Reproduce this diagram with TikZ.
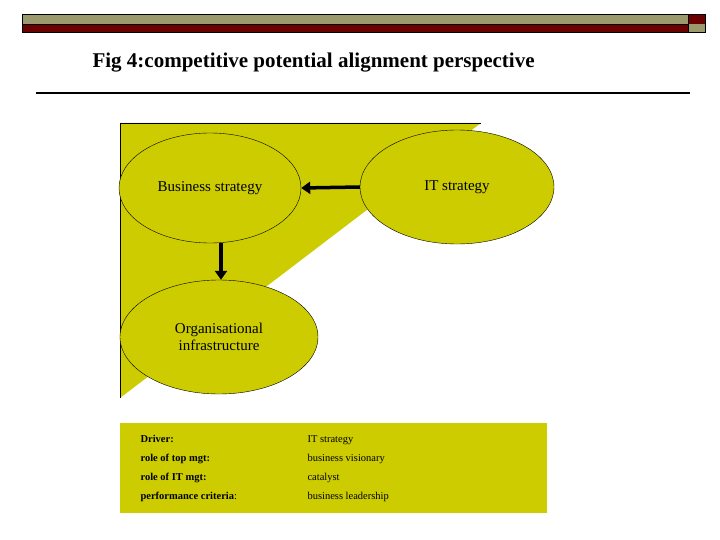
\documentclass[tikz,border=0pt]{standalone}
\usepackage{fontspec}
\setmainfont{Liberation Serif}
\usetikzlibrary{arrows.meta}
\definecolor{olivebar}{HTML}{9C9A6C}
\definecolor{maroonbar}{HTML}{6B0000}
\definecolor{ylw}{HTML}{CCCC00}
\tikzset{ell/.style={draw=black,fill=ylw,ellipse,inner sep=0pt,font=\fontsize{15}{17}\selectfont,align=center},
fat/.style={line width=3.5pt,-{Triangle[length=9pt,width=12pt]}},
small/.style={font=\fontsize{10.5}{19}\selectfont,align=left,anchor=north west}}
\usetikzlibrary{shapes.geometric}
\begin{document}
\begin{tikzpicture}[x=1pt,y=-1pt]
\useasboundingbox (0,0) rectangle (720,540);
\fill[white] (0,0) rectangle (720,540);
% top bar
\fill[olivebar] (22,15) rectangle (688,24);
\fill[maroonbar] (22,24) rectangle (688,33);
\fill[maroonbar] (688,15) rectangle (705,24);
\fill[olivebar] (688,24) rectangle (705,33);
\draw[line width=1pt] (22,15) rectangle (705,33);
\draw[line width=1pt] (688,15) -- (688,33);
\draw (22,24) -- (688,24);
\node[font=\bfseries\fontsize{21}{24}\selectfont,anchor=west] (title) at (89,63) {Fig 4:competitive potential alignment perspective};
\draw[line width=1.2pt] (36,93) -- (690,93);
% background polygon
\fill[ylw] (120,123) -- (481,123) -- (120,398) -- cycle;
\draw (120,398) -- (120,123) -- (481,123);
\node[ell,minimum width=182pt,minimum height=110pt] (bs) at (210,188) {Business strategy};
\node[ell,minimum width=194pt,minimum height=114pt] (it) at (457,187) {IT strategy};
\node[ell,minimum width=198pt,minimum height=114pt] (org) at (219,337) {Organisational\\infrastructure};
\draw[fat] (it.west) -- (bs.east);
\draw[fat] ([xshift=11pt]bs.south) -- ([xshift=2pt]org.north);
% bottom box
\fill[ylw] (120,423) rectangle (547,513);
\node[small,font=\bfseries\fontsize{10.5}{19}\selectfont] (lab) at (137,432) {Driver:\\role of top mgt:\\role of IT mgt:\\performance criteria{\mdseries :}};
\node[small] (val) at (304,432) {IT strategy\\business visionary\\catalyst\\business leadership};
\end{tikzpicture}
\end{document}
